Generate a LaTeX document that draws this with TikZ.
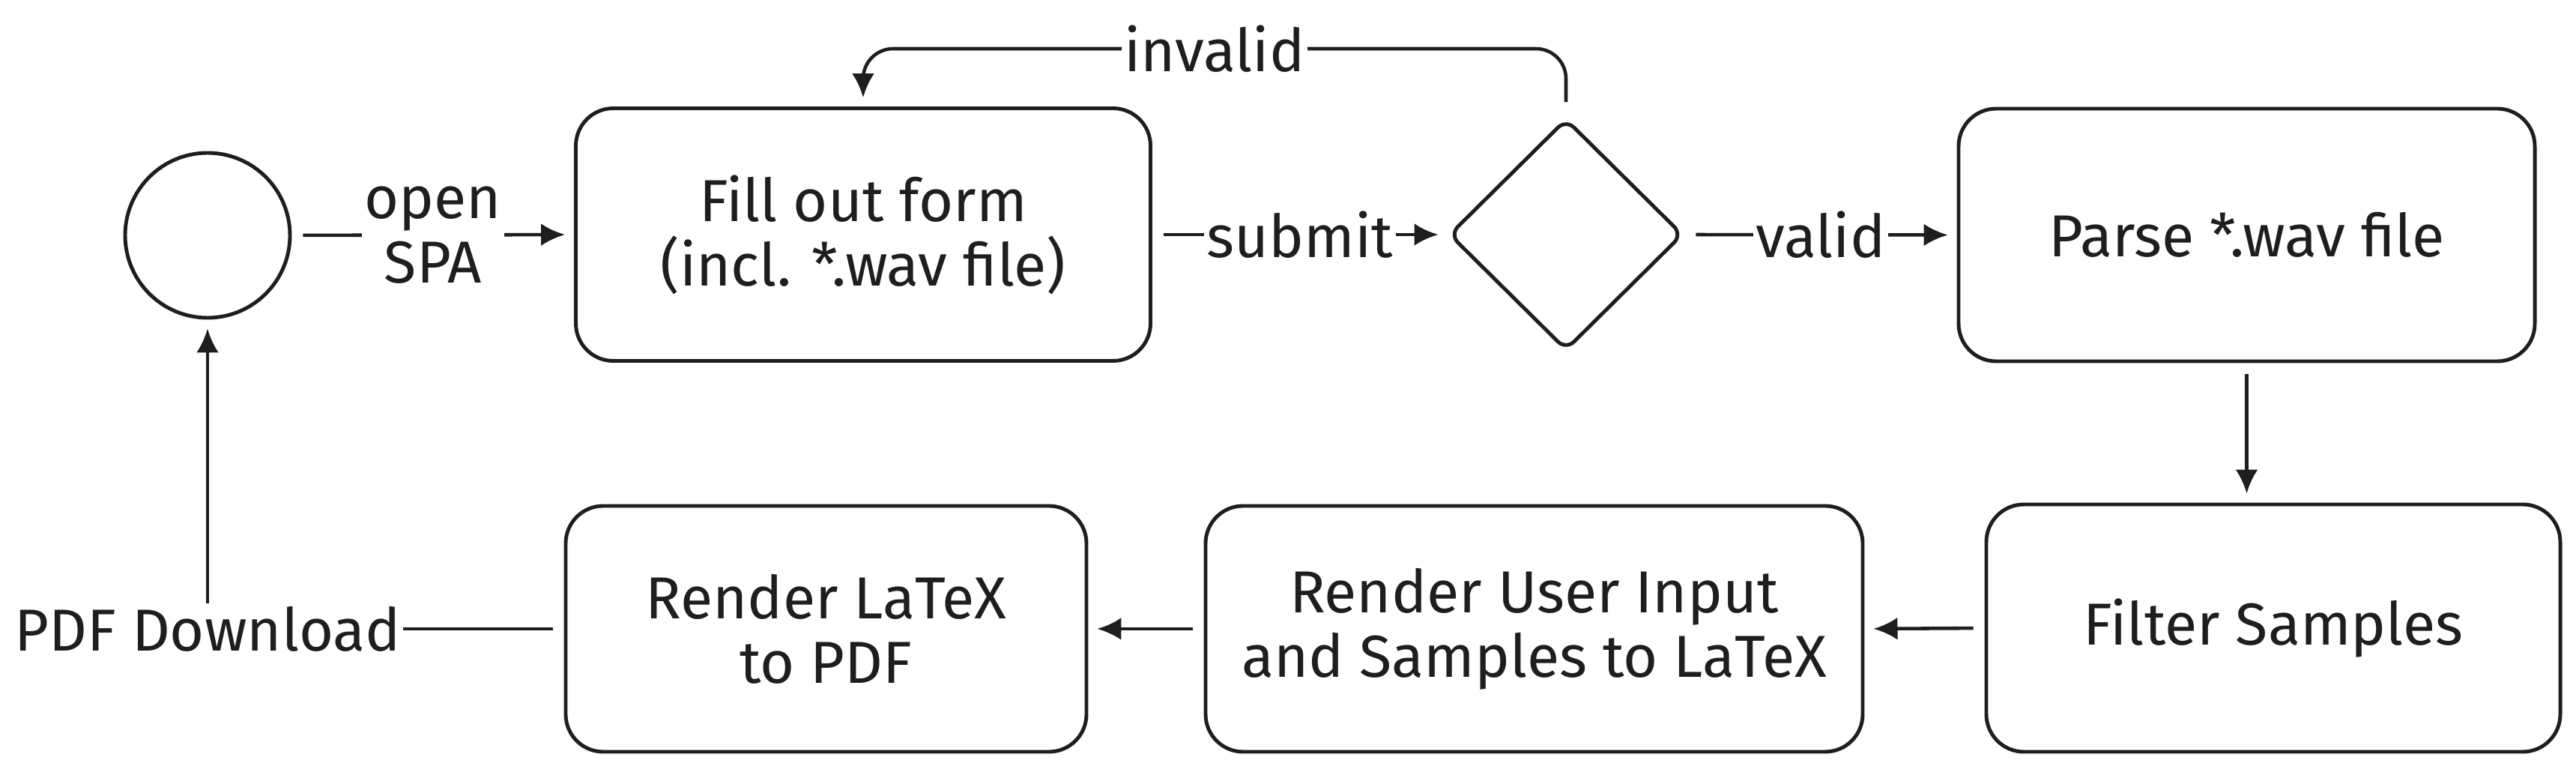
\documentclass[tikz,border=0pt]{standalone}
\usepackage{fontspec}
\setmainfont{Fira Sans}
\usepackage{tikz}
\usetikzlibrary{shapes.geometric,arrows.meta}
\definecolor{encre}{HTML}{1E1E1E}
\tikzstyle{etape} = [rectangle, rounded corners=0.5cm, draw=encre, line width=1.4pt, text=encre, align=center, font=\fontsize{22.5}{24.5}\selectfont]
\tikzstyle{choix} = [diamond, rounded corners=0.15cm, draw=encre, line width=1.4pt, inner sep=0pt]
\tikzstyle{fleche} = [draw=encre, line width=1.3pt, -{Latex[length=3.2mm,width=3mm]}, shorten <=1.5mm, shorten >=1.2mm]
\tikzstyle{etiquette} = [fill=white, text=encre, inner sep=1pt, align=center, font=\fontsize{22.5}{24.5}\selectfont]

\begin{document}
\begin{tikzpicture}
    \useasboundingbox (0,0) rectangle (34.38,-10.34);

    \node [circle, draw=encre, line width=1.4pt, minimum size=2.2cm] (start) at (2.77,-3.14) {};
    \node [etape, minimum width=7.67cm, minimum height=3.37cm] (form) at (11.52,-3.13) {Fill out form\\(incl. *.wav file)};
    \node [choix, minimum width=3.12cm, minimum height=3.09cm] (check) at (20.90,-3.13) {};
    \node [etape, minimum width=7.69cm, minimum height=3.37cm] (parse) at (29.985,-3.135) {Parse *.wav file};
    \node [etape, minimum width=7.66cm, minimum height=3.30cm] (filter) at (30.34,-8.38) {Filter Samples};
    \node [etape, minimum width=8.77cm, minimum height=3.28cm] (latex) at (20.475,-8.39) {Render User Input\\and Samples to LaTeX};
    \node [etape, minimum width=6.95cm, minimum height=3.28cm] (pdf) at (11.025,-8.39) {Render LaTeX\\to PDF};

    \coordinate (haut) at (0,-0.65);

    \draw [fleche] (start.east) -- node [etiquette] {open\\SPA} (form.west);
    \draw [fleche] (form.east) -- node [etiquette] {submit} (check.west);
    \draw [fleche] (check.east) -- node [etiquette] {valid} (parse.west);
    \draw [fleche, rounded corners=0.4cm, shorten <=2mm] (check.north) -- (check.north |- haut) -- node [etiquette] {invalid} (form.north |- haut) -- (form.north);
    \draw [fleche] (parse.south) -- (parse.south |- filter.north);
    \draw [fleche] (filter.west) -- (latex.east);
    \draw [fleche] (latex.west) -- (pdf.east);
    \draw [fleche] (pdf.west) -| node [etiquette, pos=0.5] {PDF Download} (start.south);
\end{tikzpicture}
\end{document}
